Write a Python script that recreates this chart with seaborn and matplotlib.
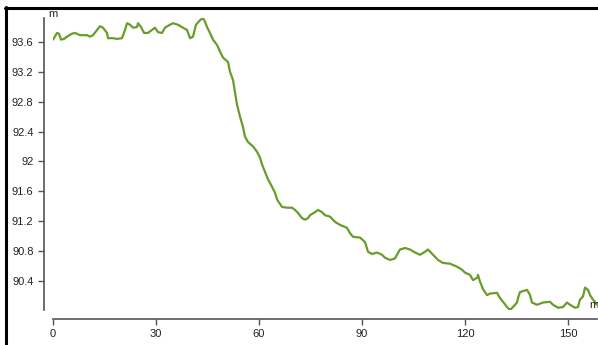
import numpy as np
import pandas as pd
import matplotlib
matplotlib.use("Agg")
import matplotlib.pyplot as plt
from matplotlib.lines import Line2D
import seaborn as sns

# Elevation profile: distance (m) along the track vs. elevation (m)
distance = [0.0, 1.17, 1.75, 2.33, 3.2, 4.08, 5.53, 6.41, 7.87, 9.91,
            10.78, 11.65, 12.82, 13.69, 14.56, 15.73, 16.02, 17.48, 18.64, 20.1,
            20.97, 21.56, 22.43, 23.3, 24.47, 24.76, 25.63, 26.51, 27.67, 28.84,
            29.71, 30.59, 31.75, 32.62, 34.08, 34.96, 36.41, 37.87, 39.03, 39.91,
            40.78, 41.65, 42.82, 43.69, 44.28, 44.86, 45.73, 46.61, 47.77, 48.65,
            49.52, 50.98, 51.56, 52.43, 53.01, 53.6, 54.47, 55.35, 55.93, 56.8,
            58.26, 59.42, 60.3, 60.88, 61.75, 62.63, 63.79, 64.67, 65.25, 66.71,
            68.16, 69.62, 70.49, 71.37, 72.53, 73.41, 74.28, 74.86, 76.32, 77.19,
            78.36, 79.23, 80.69, 82.14, 83.6, 85.64, 86.51, 87.39, 89.43, 90.88,
            91.76, 92.92, 94.38, 95.83, 96.71, 98.17, 99.62, 100.2, 101.08, 102.53,
            103.99, 105.45, 106.9, 108.36, 109.23, 110.69, 112.15, 113.6, 115.64, 117.68,
            119.14, 120.01, 121.47, 122.34, 123.51, 123.8, 124.38, 125.25, 126.42, 127.29,
            129.33, 130.21, 131.08, 132.25, 133.12, 133.99, 135.16, 135.45, 136.03, 138.07,
            138.95, 139.53, 140.99, 142.73, 144.77, 145.65, 147.1, 148.56, 149.72, 150.6,
            152.05, 152.93, 153.51, 154.38, 154.97, 155.84, 156.42, 157.3, 158.46]
elevation = [93.63, 93.72, 93.71, 93.63, 93.64, 93.67, 93.71, 93.72, 93.69, 93.69,
             93.67, 93.69, 93.76, 93.81, 93.79, 93.72, 93.65, 93.65, 93.64, 93.65,
             93.76, 93.85, 93.83, 93.79, 93.8, 93.85, 93.8, 93.72, 93.72, 93.76,
             93.79, 93.73, 93.72, 93.79, 93.83, 93.85, 93.83, 93.79, 93.76, 93.65,
             93.67, 93.83, 93.89, 93.92, 93.87, 93.8, 93.72, 93.63, 93.56, 93.47,
             93.39, 93.33, 93.2, 93.09, 92.93, 92.76, 92.6, 92.46, 92.33, 92.26,
             92.2, 92.13, 92.05, 91.96, 91.86, 91.76, 91.66, 91.58, 91.49, 91.39,
             91.38, 91.38, 91.35, 91.31, 91.24, 91.22, 91.24, 91.28, 91.32, 91.35,
             91.32, 91.28, 91.26, 91.19, 91.15, 91.11, 91.04, 90.99, 90.98, 90.92,
             90.79, 90.76, 90.78, 90.75, 90.71, 90.68, 90.7, 90.75, 90.82, 90.84,
             90.82, 90.78, 90.75, 90.79, 90.82, 90.75, 90.68, 90.64, 90.63, 90.59,
             90.55, 90.51, 90.48, 90.41, 90.44, 90.48, 90.39, 90.29, 90.21, 90.23,
             90.24, 90.17, 90.12, 90.05, 90.01, 90.05, 90.11, 90.17, 90.25, 90.28,
             90.21, 90.11, 90.08, 90.11, 90.12, 90.08, 90.04, 90.05, 90.11, 90.08,
             90.04, 90.05, 90.15, 90.19, 90.31, 90.28, 90.21, 90.15, 90.08]
x_ticks = [0, 30, 60, 90, 120, 150]
y_ticks = [90.4, 90.8, 91.2, 91.6, 92.0, 92.4, 92.8, 93.2, 93.6]
unit = "m"

df = pd.DataFrame({"distance": distance, "elevation": elevation})

sns.set_style("white")
plt.rcParams["font.family"] = ["Liberation Sans", "DejaVu Sans"]

W, H = 598, 345
fig = plt.figure(figsize=(W / 100, H / 100), dpi=100)
ax = fig.add_axes([53 / W, 35 / H, 544 / W, 292 / H])

sns.lineplot(data=df, x="distance", y="elevation", ax=ax, color="#6a9c2b",
             linewidth=1.6, sort=False)

ax.set_xlim(0, df["distance"].max())
ax.set_ylim(df["elevation"].min(), df["elevation"].max())
ax.set_xticks(x_ticks)
ax.set_yticks(y_ticks)
ax.set_yticklabels([f"{v:g}" for v in y_ticks])
ax.set_xlabel("")
ax.set_ylabel("")

for side in ["top", "right"]:
    ax.spines[side].set_visible(False)
for side in ["left", "bottom"]:
    ax.spines[side].set_position(("outward", 6.5))
    ax.spines[side].set_color("#555555")
    ax.spines[side].set_linewidth(1.2)
ax.tick_params(axis="both", colors="#555555", labelcolor="#222222",
               labelsize=8, length=4.5, width=1, pad=3,
               direction="out", bottom=True, left=True)

ax.annotate(unit, xy=(0, 1), xycoords="axes fraction", xytext=(0, 4),
            textcoords="offset pixels", ha="center", va="center",
            fontsize=8, color="#222222", annotation_clip=False)
ax.annotate(unit, xy=(1, 0), xycoords="axes fraction", xytext=(2, 5),
            textcoords="offset pixels", ha="right", va="center",
            fontsize=8, color="#222222", annotation_clip=False)

# black frame on top and left edges
fig.add_artist(Line2D([5 / W, 1.0], [1 - 7.5 / H, 1 - 7.5 / H],
                      transform=fig.transFigure, color="black", linewidth=2.2))
fig.add_artist(Line2D([6 / W, 6 / W], [0.0, 1 - 6.5 / H],
                      transform=fig.transFigure, color="black", linewidth=2.2))

fig.savefig("out.png", dpi=100)
